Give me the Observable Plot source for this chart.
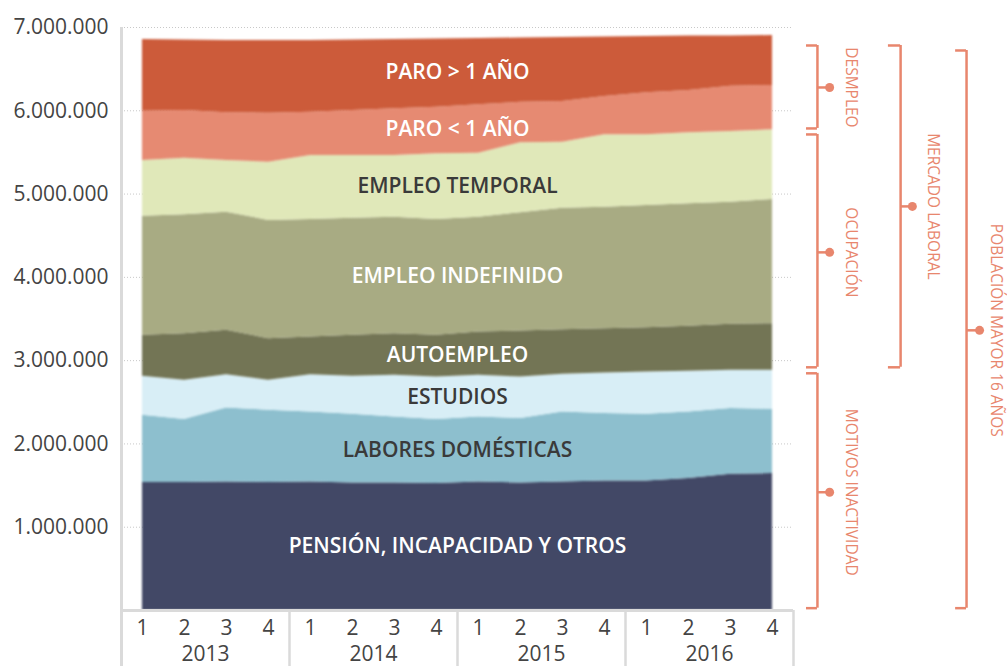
<!DOCTYPE html>
<html>
<head>
<meta charset="utf-8">
<script src="https://cdn.jsdelivr.net/npm/d3@7"></script>
<script src="https://cdn.jsdelivr.net/npm/@observablehq/plot@0.6"></script>
<style>
  body { margin: 0; background: #fff; }
  g[aria-label="area"] { filter: blur(0.9px); }
</style>
</head>
<body>
<div id="chart"></div>
<script>
// ---- Data (thousands of people), quarters 2013Q1 .. 2016Q4 ----
const years = ["2013", "2014", "2015", "2016"];
const quarterLabels = ["1","2","3","4","1","2","3","4","1","2","3","4","1","2","3","4"];

const seriesNames = [
  "PENSIÓN, INCAPACIDAD Y OTROS",
  "LABORES DOMÉSTICAS",
  "ESTUDIOS",
  "AUTOEMPLEO",
  "EMPLEO INDEFINIDO",
  "EMPLEO TEMPORAL",
  "PARO < 1 AÑO",
  "PARO > 1 AÑO"
];
const pension    = [1536,1536,1543,1536,1543,1531,1531,1524,1543,1531,1543,1555,1555,1584,1636,1644];
const labores    = [808,756,888,868,840,825,792,768,780,773,840,809,801,799,788,772];
const estudios   = [468,472,401,360,449,456,501,511,501,499,453,487,507,489,460,468];
const autoempleo = [492,560,532,500,451,492,500,501,519,552,536,533,533,540,552,560];
const indefinido = [1431,1428,1419,1420,1413,1407,1399,1392,1380,1421,1459,1459,1468,1472,1467,1492];
const temporal   = [669,679,621,699,768,753,741,788,768,840,792,869,848,852,849,836];
const paroMenos1 = [591,573,572,588,519,540,560,559,581,487,489,460,504,508,543,532];
const paroMas1   = [861,846,868,873,861,846,832,819,796,771,768,714,676,654,603,600];
const seriesValues = [pension, labores, estudios, autoempleo, indefinido, temporal, paroMenos1, paroMas1];

const seriesColors = ["#424866","#8dbfce","#d8eef6","#737555","#a8ab83","#e0e8b9","#e68a72","#cc5b3a"];
const labelColors  = ["#ffffff","#3a3a3a","#3a3a3a","#ffffff","#ffffff","#3a3a3a","#ffffff","#ffffff"];

// Brackets on the right
const bracketLabels = ["DESMPLEO","OCUPACIÓN","MOTIVOS INACTIVIDAD","MERCADO LABORAL","POBLACIÓN MAYOR 16 AÑOS"];
const bracketTop    = [6784, 5716, 2848, 6784, 6724];
const bracketBottom = [5788, 2920,   28, 2920,   28];
const bracketMid    = [6280, 4300, 1420, 4852, 3364];
const bracketLevel  = [0, 0, 0, 1, 2];

const yTicks = [1000,2000,3000,4000,5000,6000,7000];

// ---- Build tables ----
const rows = [];
seriesNames.forEach((s, k) => seriesValues[k].forEach((v, i) => rows.push({q: i, serie: s, value: v})));

// label positions: middle of each layer between quarters 8 and 9 (x index 7.5)
const labels = [];
let c7 = 0, c8 = 0;
seriesNames.forEach((s, k) => {
  const a = seriesValues[k][7], b = seriesValues[k][8];
  const mid = ((c7 + a / 2) + (c8 + b / 2)) / 2;
  labels.push({serie: s, y: mid, color: labelColors[k]});
  c7 += a; c8 += b;
});

// bracket geometry in x-scale units (quarter index)
const levelTick = [15.81, 17.76, 19.36];
const levelLine = [16.07, 18.05, 19.62];
const levelDot  = [16.36, 18.33, 19.93];
const levelText = [16.88, 18.81, 20.31];
const brackets = bracketLabels.map((t, i) => ({
  label: t, top: bracketTop[i], bottom: bracketBottom[i], mid: bracketMid[i],
  tick: levelTick[bracketLevel[i]], line: levelLine[bracketLevel[i]],
  dot: levelDot[bracketLevel[i]], text: levelText[bracketLevel[i]]
}));
const bracketEnds = brackets.flatMap(b => [{y: b.top, x1: b.tick, x2: b.line}, {y: b.bottom, x1: b.tick, x2: b.line}]);

const esLocale = d3.formatLocale({decimal: ",", thousands: ".", grouping: [3], currency: ["", "€"]});
const fmt = esLocale.format(",");

const salmon = "#e8866d";
const lineGray = "#dadada";

const chart = Plot.plot({
  width: 1007,
  height: 666,
  marginLeft: 121,
  marginRight: 214,
  marginTop: 27,
  marginBottom: 56,
  style: {fontFamily: "'Open Sans', sans-serif", background: "#fff"},
  x: {domain: [-0.5, 15.5]},
  y: {domain: [0, 7000]},
  color: {domain: seriesNames, range: seriesColors},
  marks: [
    Plot.ruleY(yTicks, {x1: -0.5, x2: 15.5, stroke: "#c8c8c8", strokeDasharray: "1,2", strokeWidth: 1}),
    Plot.areaY(rows, {x: "q", y: "value", z: "serie", fill: "serie", order: seriesNames}),
    // frame lines
    Plot.ruleX([-0.5], {y1: -700, y2: 7000, stroke: lineGray, strokeWidth: 3}),
    Plot.ruleX([3.5, 7.5, 11.5, 15.5], {y1: 0, y2: -700, stroke: lineGray, strokeWidth: 2.5}),
    Plot.ruleY([0], {x1: -0.5, x2: 15.5, stroke: lineGray, strokeWidth: 3}),
    // axes
    Plot.axisY({ticks: yTicks, tickSize: 0, tickPadding: 13, tickFormat: d => fmt(d * 1000), fontSize: 21, color: "#444", label: null}),
    Plot.axisX({ticks: d3.range(16), tickSize: 0, tickPadding: 10, tickFormat: i => quarterLabels[i], fontSize: 21, color: "#444", label: null}),
    Plot.text(years, {x: (d, i) => i * 4 + 1.5, frameAnchor: "bottom", dy: 50.5, text: d => d, fontSize: 21, fill: "#444"}),
    // layer labels
    Plot.text(labels, {x: 7.5, y: "y", text: "serie", fill: "color", fontSize: 21, fontWeight: 600}),
    // brackets
    Plot.ruleX(brackets, {x: "line", y1: "bottom", y2: "top", stroke: salmon, strokeWidth: 2.5}),
    Plot.ruleY(bracketEnds, {y: "y", x1: "x1", x2: "x2", stroke: salmon, strokeWidth: 2.5}),
    Plot.ruleY(brackets, {y: "mid", x1: "line", x2: "dot", stroke: salmon, strokeWidth: 2.5}),
    Plot.dot(brackets, {x: "dot", y: "mid", r: 4.5, fill: salmon}),
    Plot.text(brackets, {x: "text", y: "mid", text: "label", rotate: 90, fill: salmon, fontSize: 15.5})
  ]
});
document.getElementById("chart").appendChild(chart);
</script>
</body>
</html>
